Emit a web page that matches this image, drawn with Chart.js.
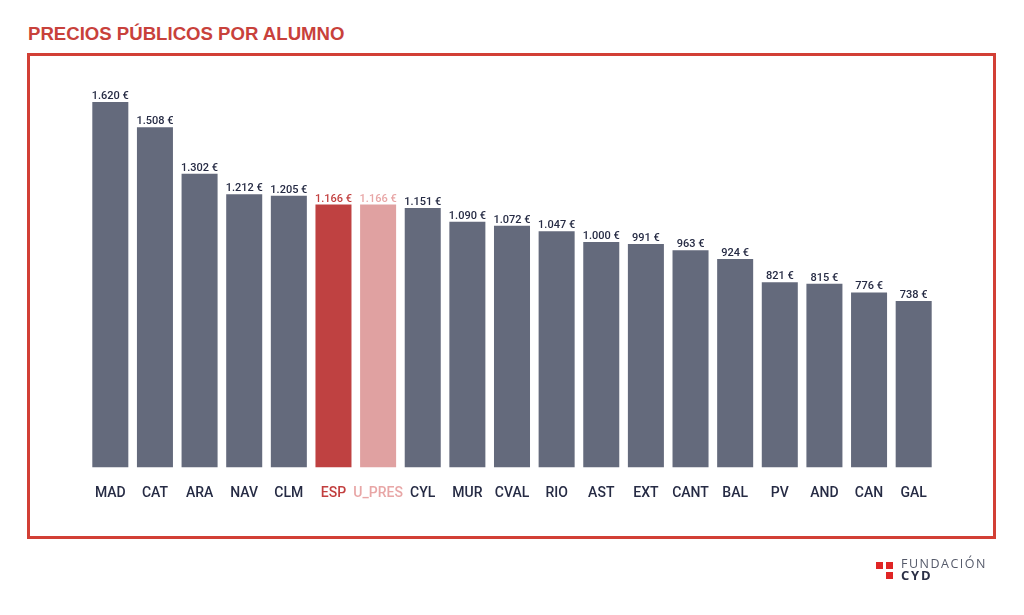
<!DOCTYPE html>
<html lang="es">
<head>
<meta charset="UTF-8">
<title>Precios públicos por alumno</title>
<script src="https://cdn.jsdelivr.net/npm/chart.js"></script>
<style>
  html, body { margin: 0; padding: 0; background: #fff; }
  body { width: 1024px; height: 615px; position: relative; overflow: hidden; font-family: "Liberation Sans", Arial, sans-serif; }
  .title {
    position: absolute; left: 28px; top: 23px;
    font-size: 18.6px; font-weight: bold; color: #c8413b; line-height: 22px;
  }
  .frame {
    position: absolute; left: 27px; top: 53px; width: 963px; height: 480px;
    border: 3.5px solid #d23f35;
  }
  #chart { position: absolute; left: 0; top: 0; }
  .logo { position: absolute; left: 876px; top: 558px; }
  .sq { position: absolute; width: 7px; height: 7px; background: #e02525; }
  .logo-top { position: absolute; left: 25px; top: -1px; font-family: "Open Sans", sans-serif; font-size: 12.5px; letter-spacing: 1.5px; color: #555a6a; white-space: nowrap; line-height: 14px; }
  .logo-bot { position: absolute; left: 25px; top: 10px; font-family: "Open Sans", sans-serif; font-weight: bold; font-size: 13px; letter-spacing: 1.8px; color: #2a2f45; line-height: 14px; }
</style>
</head>
<body>
<div class="title">PRECIOS PÚBLICOS POR ALUMNO</div>
<div class="frame"></div>
<canvas id="chart" width="1024" height="615"></canvas>
<div class="logo">
  <div class="sq" style="left:0;top:4px"></div>
  <div class="sq" style="left:10px;top:4px"></div>
  <div class="sq" style="left:10px;top:14px"></div>
  <div class="logo-top">FUNDACIÓN</div>
  <div class="logo-bot">CYD</div>
</div>
<script>
// Data
const regions = ['MAD', 'CAT', 'ARA', 'NAV', 'CLM', 'ESP', 'U_PRES', 'CYL', 'MUR', 'CVAL', 'RIO', 'AST', 'EXT', 'CANT', 'BAL', 'PV', 'AND', 'CAN', 'GAL'];
const prices = [1620, 1508, 1302, 1212, 1205, 1166, 1166, 1151, 1090, 1072, 1047, 1000, 991, 963, 924, 821, 815, 776, 738];

const GREY = '#646a7c';
const barColors = regions.map(r => r === 'ESP' ? '#bf4141' : r === 'U_PRES' ? '#e0a1a1' : GREY);
const textColors = regions.map(r => r === 'ESP' ? '#c23f3f' : r === 'U_PRES' ? '#e8a6a6' : '#262b44');

// euro format with dot as thousands separator
function euro(v) {
  return v.toString().replace(/\B(?=(\d{3})+(?!\d))/g, '.') + ' €';
}

// value labels above the bars
const valueLabels = {
  id: 'valueLabels',
  afterDatasetsDraw(chart) {
    const ctx = chart.ctx;
    const meta = chart.getDatasetMeta(0);
    ctx.save();
    ctx.font = '500 11px Roboto, "Liberation Sans", sans-serif';
    ctx.textAlign = 'center';
    ctx.textBaseline = 'alphabetic';
    meta.data.forEach((bar, i) => {
      ctx.fillStyle = textColors[i];
      ctx.fillText(euro(prices[i]), bar.x, bar.y - 3);
    });
    ctx.restore();
  }
};

const ctx = document.getElementById('chart').getContext('2d');
new Chart(ctx, {
  type: 'bar',
  data: {
    labels: regions,
    datasets: [{
      data: prices,
      backgroundColor: barColors,
      borderWidth: 0,
      categoryPercentage: 1,
      barPercentage: 0.807
    }]
  },
  options: {
    responsive: false,
    animation: false,
    events: [],
    layout: { padding: { left: 88, right: 88, top: 61.5, bottom: 107.5 } },
    plugins: { legend: { display: false }, tooltip: { enabled: false } },
    scales: {
      x: {
        grid: { display: false, drawTicks: false },
        border: { display: false },
        ticks: {
          padding: 17.5,
          color: textColors,
          font: { family: 'Roboto, "Liberation Sans", sans-serif', size: 14, weight: '500' },
          maxRotation: 0,
          autoSkip: false
        },
        afterFit(scale) { scale.height = 40; }
      },
      y: {
        display: false,
        min: 0,
        max: 1800
      }
    }
  },
  plugins: [valueLabels]
});
</script>
</body>
</html>
